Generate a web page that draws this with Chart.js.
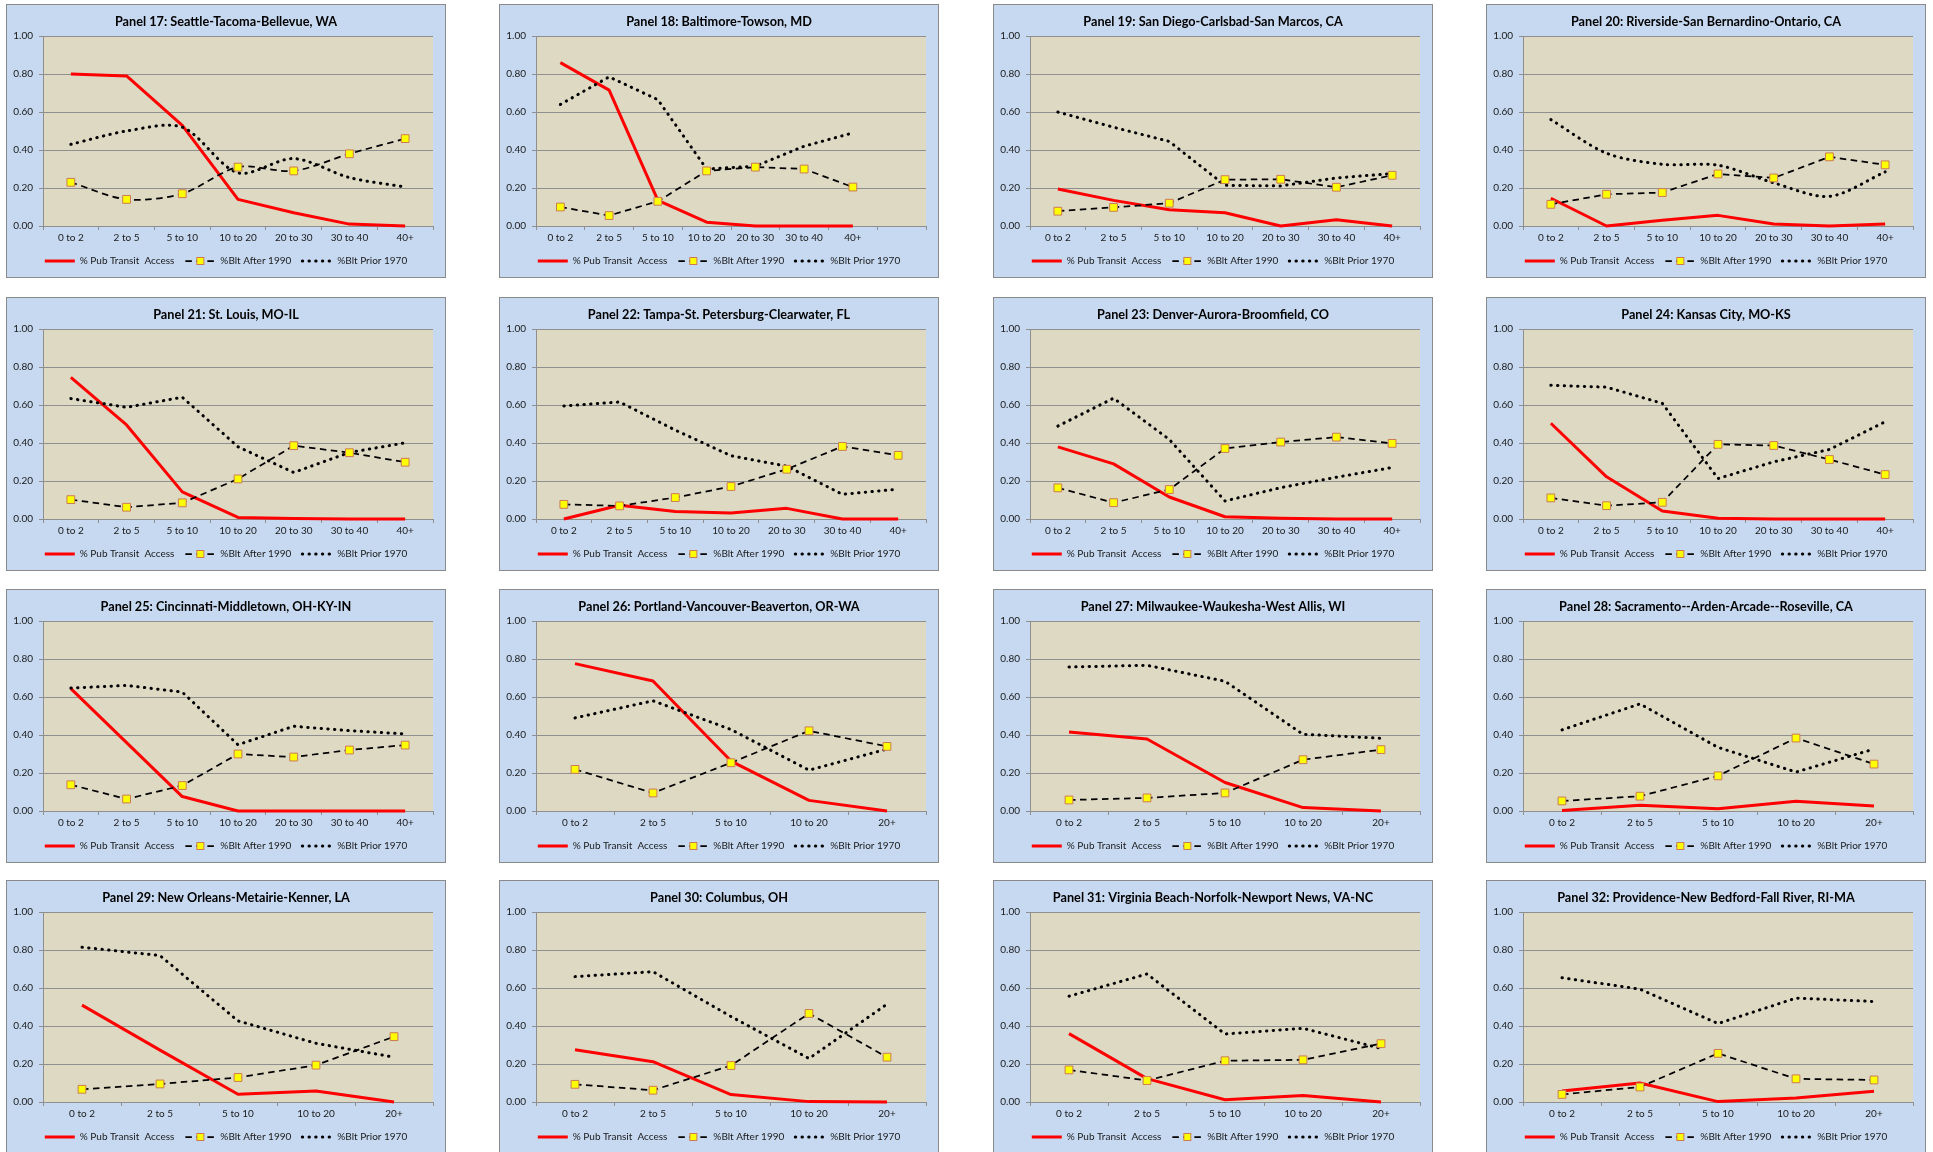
<!DOCTYPE html>
<html>
<head>
<meta charset="utf-8">
<script src="https://cdn.jsdelivr.net/npm/chart.js@4.4.1/dist/chart.umd.min.js"></script>
<style>
html, body { margin: 0; padding: 0; background: #ffffff; width: 1933px; height: 1152px; overflow: hidden; }
.panel { position: absolute; width: 440px; height: 274px; box-sizing: border-box; border: 1px solid #8a8a8a; background: #c6d9f1; }
.panel canvas { position: absolute; left: 0; top: 0; }
</style>
</head>
<body>
<script>
// ---------------- DATA ----------------
const cat7 = ['0 to 2', '2 to 5', '5 to 10', '10 to 20', '20 to 30', '30 to 40', '40+'];
const cat8 = ['0 to 2', '2 to 5', '5 to 10', '10 to 20', '20 to 30', '30 to 40', '40+', ''];
const cat5 = ['0 to 2', '2 to 5', '5 to 10', '10 to 20', '20+'];

const seriesNames = ['% Pub Transit  Access', '%Blt After 1990', '%Blt Prior 1970'];

const panelTitles = [
  'Panel 17: Seattle-Tacoma-Bellevue, WA',
  'Panel 18: Baltimore-Towson, MD',
  'Panel 19: San Diego-Carlsbad-San Marcos, CA',
  'Panel 20: Riverside-San Bernardino-Ontario, CA',
  'Panel 21: St. Louis, MO-IL',
  'Panel 22: Tampa-St. Petersburg-Clearwater, FL',
  'Panel 23: Denver-Aurora-Broomfield, CO',
  'Panel 24: Kansas City, MO-KS',
  'Panel 25: Cincinnati-Middletown, OH-KY-IN',
  'Panel 26: Portland-Vancouver-Beaverton, OR-WA',
  'Panel 27: Milwaukee-Waukesha-West Allis, WI',
  'Panel 28: Sacramento--Arden-Arcade--Roseville, CA',
  'Panel 29: New Orleans-Metairie-Kenner, LA',
  'Panel 30: Columbus, OH',
  'Panel 31: Virginia Beach-Norfolk-Newport News, VA-NC',
  'Panel 32: Providence-New Bedford-Fall River, RI-MA'
];

const panelCategories = [cat7, cat8, cat7, cat7, cat7, cat7, cat7, cat7, cat7, cat5, cat5, cat5, cat5, cat5, cat5, cat5];

const pubTransit = [
  [0.80, 0.79, 0.53, 0.14, 0.07, 0.01, 0.00],
  [0.86, 0.715, 0.135, 0.02, 0.00, 0.00, 0.00],
  [0.195, 0.135, 0.085, 0.07, 0.00, 0.033, 0.00],
  [0.146, 0.00, 0.03, 0.056, 0.011, 0.00, 0.01],
  [0.745, 0.495, 0.143, 0.008, 0.003, 0.00, 0.00],
  [0.00, 0.072, 0.039, 0.032, 0.056, 0.00, 0.00],
  [0.38, 0.29, 0.116, 0.012, 0.004, 0.00, 0.00],
  [0.504, 0.222, 0.042, 0.004, 0.00, 0.00, 0.00],
  [0.644, 0.36, 0.076, 0.00, 0.00, 0.00, 0.00],
  [0.776, 0.684, 0.263, 0.056, 0.00],
  [0.416, 0.379, 0.15, 0.018, 0.00],
  [0.002, 0.03, 0.012, 0.051, 0.026],
  [0.51, 0.273, 0.041, 0.058, 0.00],
  [0.275, 0.212, 0.039, 0.002, 0.00],
  [0.36, 0.123, 0.012, 0.034, 0.00],
  [0.058, 0.10, 0.002, 0.021, 0.056]
];

const bltAfter1990 = [
  [0.23, 0.14, 0.17, 0.31, 0.29, 0.38, 0.46],
  [0.10, 0.055, 0.13, 0.29, 0.31, 0.30, 0.205],
  [0.078, 0.098, 0.12, 0.244, 0.246, 0.204, 0.267],
  [0.114, 0.167, 0.176, 0.274, 0.253, 0.364, 0.322],
  [0.102, 0.062, 0.085, 0.211, 0.386, 0.349, 0.299],
  [0.077, 0.069, 0.113, 0.171, 0.262, 0.382, 0.335],
  [0.164, 0.086, 0.155, 0.371, 0.405, 0.431, 0.398],
  [0.111, 0.07, 0.088, 0.393, 0.387, 0.313, 0.234],
  [0.138, 0.063, 0.134, 0.30, 0.284, 0.321, 0.347],
  [0.219, 0.095, 0.254, 0.422, 0.34],
  [0.058, 0.069, 0.095, 0.27, 0.323],
  [0.053, 0.078, 0.185, 0.384, 0.247],
  [0.067, 0.095, 0.129, 0.194, 0.344],
  [0.093, 0.062, 0.192, 0.466, 0.236],
  [0.169, 0.113, 0.217, 0.222, 0.307],
  [0.04, 0.079, 0.256, 0.122, 0.116]
];

const bltPrior1970 = [
  [0.43, 0.50, 0.52, 0.28, 0.355, 0.255, 0.205],
  [0.64, 0.785, 0.665, 0.30, 0.315, 0.42, 0.49],
  [0.60, 0.52, 0.445, 0.214, 0.211, 0.253, 0.276],
  [0.56, 0.383, 0.325, 0.32, 0.227, 0.156, 0.285],
  [0.634, 0.588, 0.641, 0.38, 0.245, 0.35, 0.401],
  [0.595, 0.616, 0.468, 0.333, 0.278, 0.13, 0.157],
  [0.489, 0.636, 0.419, 0.095, 0.165, 0.22, 0.271],
  [0.704, 0.694, 0.609, 0.213, 0.301, 0.366, 0.512],
  [0.647, 0.661, 0.626, 0.349, 0.446, 0.423, 0.406],
  [0.49, 0.58, 0.429, 0.215, 0.326],
  [0.758, 0.767, 0.683, 0.404, 0.383],
  [0.427, 0.564, 0.335, 0.205, 0.326],
  [0.815, 0.771, 0.427, 0.309, 0.236],
  [0.66, 0.686, 0.45, 0.229, 0.515],
  [0.557, 0.674, 0.358, 0.388, 0.282],
  [0.654, 0.594, 0.413, 0.547, 0.529]
];

const yTickValues = [0, 0.2, 0.4, 0.6, 0.8, 1.0];

// ---------------- STYLE / LAYOUT ----------------
const colLefts = [6, 499, 993, 1486];
const rowTops = [4, 297, 589, 880];
const canvasW = 438, canvasH = 272;
const smoothDashed = [0];     // panel indices with smoothed lines
const smoothDotted = [0, 3];

const FONT = 'Lato, "Open Sans", sans-serif';
const TEXT = '#1a1a1a';
const GRID = '#8f8f8f';
const PLOT_BG = '#ddd9c3';
const RED = '#ff0000';
const MARK_FILL = '#ffff00';
const MARK_EDGE = '#cc7a55';
const DASH = [6.5, 4.5];
const DOT = [0.4, 6.3];

Chart.defaults.font.family = FONT;

const decor = {
  id: 'decor',
  beforeDraw(chart) {
    const { ctx, chartArea: a } = chart;
    ctx.save();
    ctx.fillStyle = PLOT_BG;
    ctx.fillRect(a.left, a.top, a.right - a.left, a.bottom - a.top);
    ctx.restore();
  },
  afterDraw(chart) {
    const lg = chart.legend;
    if (!lg || !lg.legendHitBoxes || !lg.legendHitBoxes[1]) return;
    const hb = lg.legendHitBoxes[1];
    const ctx = chart.ctx;
    const cx = hb.left + 15, cy = hb.top + 5;
    ctx.save();
    ctx.setLineDash([]);
    ctx.fillStyle = MARK_FILL;
    ctx.strokeStyle = MARK_EDGE;
    ctx.lineWidth = 1;
    ctx.fillRect(cx - 3.5, cy - 3.5, 7, 7);
    ctx.strokeRect(cx - 3.5, cy - 3.5, 7, 7);
    ctx.restore();
  }
};

function legendItems() {
  return [
    { text: seriesNames[0], fillStyle: RED, strokeStyle: RED, lineWidth: 3, lineDash: [], lineCap: 'butt', pointStyle: 'line', hidden: false, datasetIndex: 0, fontColor: TEXT },
    { text: seriesNames[1], fillStyle: '#000', strokeStyle: '#000', lineWidth: 1.75, lineDash: DASH, lineCap: 'butt', pointStyle: 'line', hidden: false, datasetIndex: 1, fontColor: TEXT },
    { text: seriesNames[2], fillStyle: '#000', strokeStyle: '#000', lineWidth: 3, lineDash: DOT, lineCap: 'round', pointStyle: 'line', hidden: false, datasetIndex: 2, fontColor: TEXT }
  ];
}

for (let p = 0; p < panelTitles.length; p++) {
  const div = document.createElement('div');
  div.className = 'panel';
  div.style.left = colLefts[p % 4] + 'px';
  div.style.top = rowTops[Math.floor(p / 4)] + 'px';
  const cv = document.createElement('canvas');
  cv.width = canvasW; cv.height = canvasH;
  cv.style.width = canvasW + 'px'; cv.style.height = canvasH + 'px';
  div.appendChild(cv);
  document.body.appendChild(div);

  new Chart(cv, {
    type: 'line',
    data: {
      labels: panelCategories[p],
      datasets: [
        {
          label: seriesNames[0], data: pubTransit[p],
          borderColor: RED, borderWidth: 3, pointRadius: 0, pointHoverRadius: 0,
          tension: 0, order: 3, clip: false, borderJoinStyle: 'round'
        },
        {
          label: seriesNames[1], data: bltAfter1990[p],
          borderColor: '#000000', borderWidth: 1.75, borderDash: DASH,
          pointStyle: 'rect', pointRadius: 5.5, pointBorderWidth: 1,
          pointBackgroundColor: MARK_FILL, pointBorderColor: MARK_EDGE,
          tension: smoothDashed.includes(p) ? 0.3 : 0, order: 1, clip: false
        },
        {
          label: seriesNames[2], data: bltPrior1970[p],
          borderColor: '#000000', borderWidth: 3, borderDash: DOT, borderCapStyle: 'round',
          pointRadius: 0, pointHoverRadius: 0,
          tension: smoothDotted.includes(p) ? 0.3 : 0, order: 2, clip: false
        }
      ]
    },
    options: {
      responsive: false,
      animation: false,
      devicePixelRatio: 1,
      layout: { padding: { left: 0, right: 0, top: 0, bottom: 1 } },
      plugins: {
        tooltip: { enabled: false },
        title: {
          display: true, text: panelTitles[p], color: '#000000',
          font: { family: FONT, size: 12.7, weight: 'bold' },
          padding: { top: 9.6, bottom: 6.2 }
        },
        legend: {
          display: true, position: 'bottom',
          labels: {
            usePointStyle: true, pointStyleWidth: 30, boxHeight: 10, padding: 11,
            color: TEXT, font: { family: FONT, size: 10 },
            generateLabels: legendItems
          }
        }
      },
      scales: {
        x: {
          type: 'category', offset: true,
          grid: { display: true, offset: true, drawOnChartArea: false, drawTicks: true, tickLength: 4, color: GRID },
          border: { display: true, color: GRID, width: 1 },
          ticks: { color: TEXT, font: { family: FONT, size: 10 }, padding: 2, maxRotation: 0, autoSkip: false },
          afterFit(s) { s.height = 19; }
        },
        y: {
          type: 'linear', position: 'left', min: 0, max: 1,
          afterBuildTicks(s) { s.ticks = yTickValues.map(v => ({ value: v })); },
          grid: { display: true, drawTicks: true, tickLength: 4, color: GRID, lineWidth: 1 },
          border: { display: true, color: GRID, width: 1 },
          ticks: { color: TEXT, font: { family: FONT, size: 10 }, padding: 6, callback: v => Number(v).toFixed(2) },
          afterFit(s) { s.width = 36; }
        },
        y2: {
          type: 'linear', position: 'right', display: true, min: 0, max: 1,
          grid: { display: false, drawTicks: false },
          border: { display: false },
          ticks: { display: false },
          afterFit(s) { s.width = 12; }
        }
      }
    },
    plugins: [decor]
  });
}
</script>
</body>
</html>
